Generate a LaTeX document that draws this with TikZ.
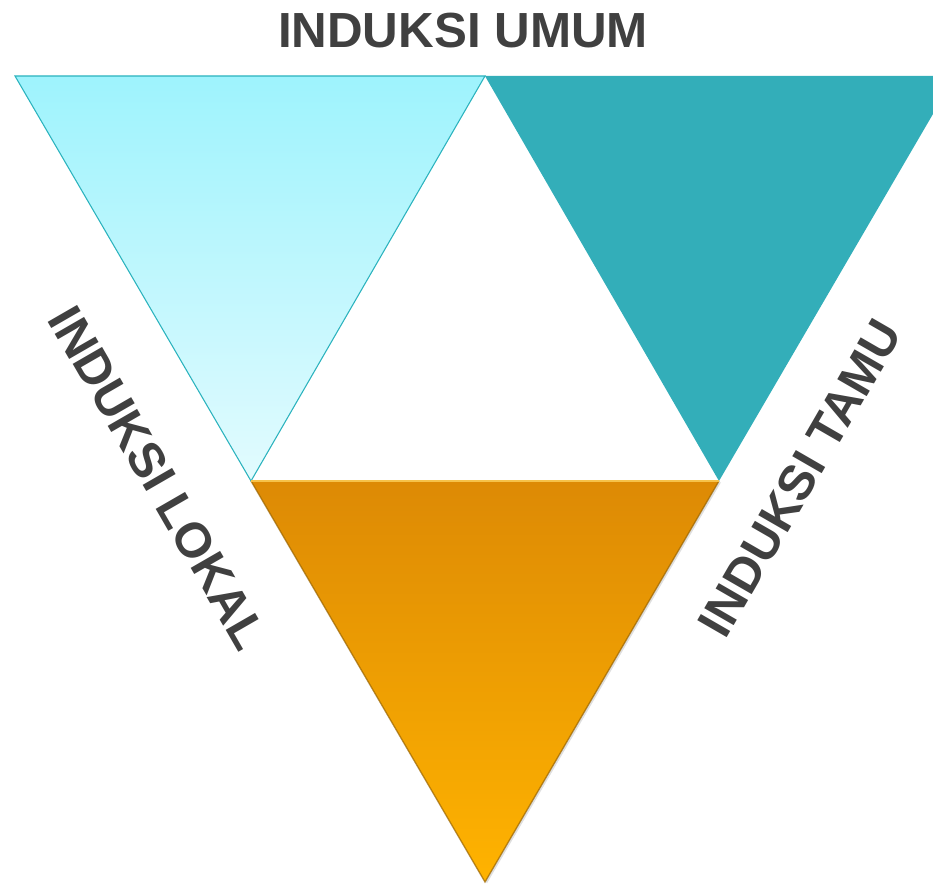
\documentclass[tikz,border=0pt]{standalone}
\usepackage{fontspec}
\setmainfont{Liberation Sans}
\usepackage{tikz}
\usetikzlibrary{shadows}
\definecolor{skytop}{HTML}{9EF3FD}
\definecolor{skybot}{HTML}{E2FBFE}
\definecolor{skyline}{HTML}{2BB3BE}
\definecolor{tealfill}{HTML}{33AEB9}
\definecolor{ambertop}{HTML}{DD8A05}
\definecolor{amberbot}{HTML}{FFB300}
\definecolor{amberedge}{HTML}{9A6400}
\definecolor{amberglow}{HTML}{F6C24A}
\definecolor{ink}{HTML}{404040}

\begin{document}
\begin{tikzpicture}[x=0.75pt,y=-0.75pt,
  caption/.style={text=ink,inner sep=0pt,font=\fontsize{37}{40}\selectfont\bfseries}]
  \useasboundingbox (0,0) rectangle (933,884);
  % corners of the three triangles
  \coordinate (topL) at (15,76);
  \coordinate (topM) at (485,76);
  \coordinate (lowL) at (251,481);
  \coordinate (lowR) at (719,481);
  \coordinate (tip) at (485,882);
  % left, pale
  \shade[top color=skytop,bottom color=skybot,draw=skyline,line width=0.8pt]
    (topL) -- (topM) -- (lowL) -- cycle;
  % right, teal (runs off the page)
  \fill[tealfill] (topM) -- (933,76) -- (933,114) -- (lowR) -- cycle;
  % bottom, amber
  \shade[top color=ambertop,bottom color=amberbot,
    drop shadow={opacity=0.25,shadow xshift=1.5pt,shadow yshift=-1pt}]
    (lowL) -- (lowR) -- (tip) -- cycle;
  \draw[amberedge,line width=1pt,opacity=0.7] (lowR) -- (tip) -- (lowL);
  \draw[amberglow,line width=1.2pt] (lowL) -- (lowR);
  % labels
  \node[caption] (umum) at (463,31) {INDUKSI UMUM};
  \node[caption,rotate=-60] (lokal) at (158,478) {INDUKSI LOKAL};
  \node[caption,rotate=60] (tamu) at (800,478) {INDUKSI TAMU};
\end{tikzpicture}
\end{document}
